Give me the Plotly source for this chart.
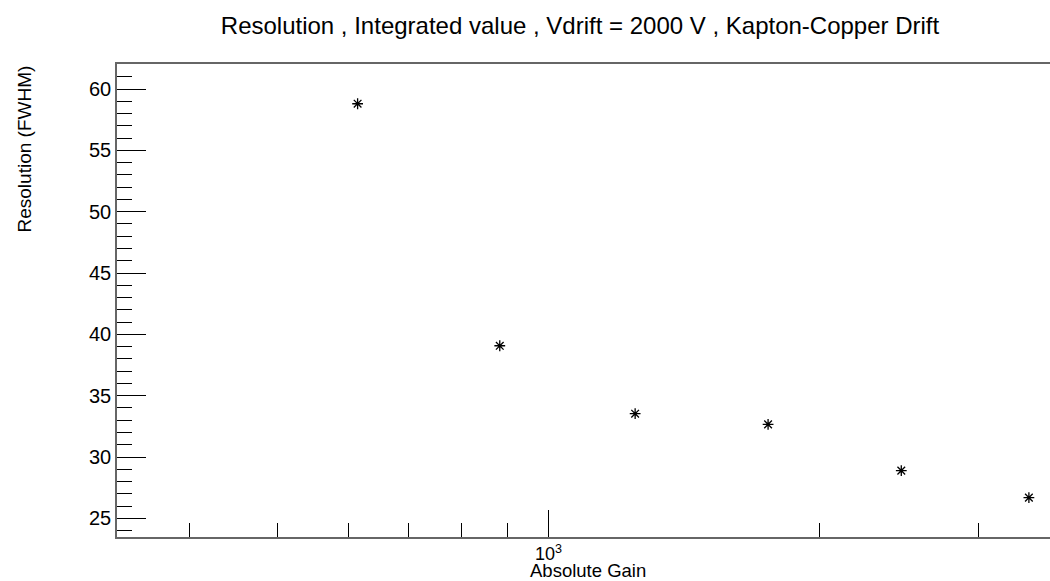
import plotly.graph_objects as go

# Data
gain = [614, 883, 1248, 1753, 2464, 3414]
resolution = [58.8, 39.07, 33.53, 32.66, 28.89, 26.69]

x_major_ticks = [1000]
x_major_labels = ["10<sup>3</sup>"]
x_minor_ticks = [400, 500, 600, 700, 800, 900, 2000, 3000]

title_text = "Resolution , Integrated value , Vdrift = 2000 V , Kapton-Copper Drift"
x_title = "Absolute Gain"
y_title = "Resolution (FWHM)"

FONT = "Liberation Sans, Arial, Helvetica, sans-serif"

fig = go.Figure()
fig.add_trace(go.Scatter(
    x=gain, y=resolution, mode="markers",
    marker=dict(symbol="asterisk-open", size=9, color="black",
                line=dict(color="black", width=1.3)),
    showlegend=False,
))

fig.update_layout(
    width=1050, height=581,
    margin=dict(l=117, r=0, t=64, b=44, autoexpand=False),
    paper_bgcolor="white", plot_bgcolor="white",
    font=dict(family=FONT, color="black", size=20),
    title=dict(text=title_text, x=(580 - 117) / 933, xref="paper", xanchor="center",
               y=1 - 26 / 581, yref="container", yanchor="middle",
               font=dict(size=24, family=FONT, color="black"),
               automargin=False),
)

fig.update_xaxes(
    type="log",
    range=[2.5211, 3.5567],
    tickmode="array", tickvals=x_major_ticks, ticktext=x_major_labels,
    ticks="inside", ticklen=27, tickwidth=1, tickcolor="black",
    minor=dict(tickmode="array", tickvals=x_minor_ticks, ticks="inside",
               ticklen=14, tickwidth=1, tickcolor="black"),
    showline=True, linecolor="#666666", linewidth=1.5, mirror=True,
    showgrid=False, zeroline=False, automargin=False,
    tickfont=dict(size=18),
    ticklabelstandoff=0,
)

fig.update_yaxes(
    range=[23.48, 62.04],
    tickmode="linear", tick0=0, dtick=5,
    ticks="inside", ticklen=29, tickwidth=1, tickcolor="black",
    minor=dict(dtick=1, tick0=0, ticks="inside", ticklen=15, tickwidth=1,
               tickcolor="black"),
    showline=True, linecolor="#666666", linewidth=1.5, mirror=False,
    showgrid=False, zeroline=False, automargin=False,
    tickfont=dict(size=20),
)

fig.add_annotation(
    text=y_title, xref="paper", yref="paper",
    x=(24 - 117) / 933, y=1.0, xanchor="center", yanchor="top",
    textangle=-90, showarrow=False,
    font=dict(size=19, family=FONT, color="black"),
)

fig.add_annotation(
    text=x_title, xref="paper", yref="paper",
    x=(588 - 117) / 933, y=-(570.5 - 537) / 473, xanchor="center", yanchor="middle",
    showarrow=False,
    font=dict(size=18.5, family=FONT, color="black"),
)

fig.write_html(
    "out.html",
    config={"displayModeBar": False},
    post_script="document.body.style.margin='0';document.body.style.overflow='hidden';",
)
